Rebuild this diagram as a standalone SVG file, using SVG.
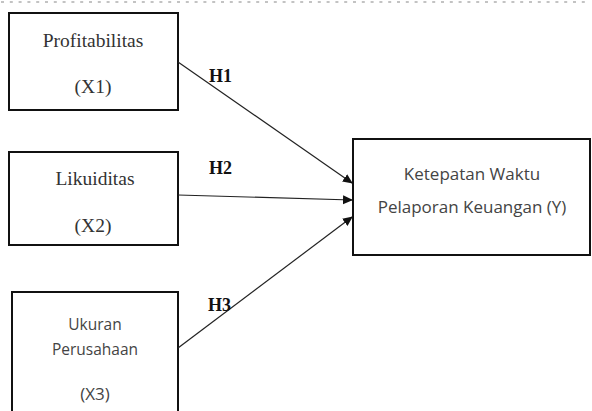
<svg xmlns="http://www.w3.org/2000/svg" width="592" height="411" viewBox="0 0 592 411">
<style>
.box{fill:#fff;stroke:#111;stroke-width:2}
.serif{font-family:"Liberation Serif",serif;font-size:19.5px;fill:#333;text-anchor:middle}
.sans{font-family:"Open Sans","DejaVu Sans",sans-serif;fill:#444;text-anchor:middle}
.s1{font-size:15.5px}
.s2{font-size:17px}
.hl{font-family:"Liberation Serif",serif;font-size:18px;font-weight:bold;fill:#111}
.conn{stroke:#222;stroke-width:1.2;fill:none;marker-end:url(#arr)}
</style>
<defs>
<marker id="arr" markerWidth="10" markerHeight="10" refX="9" refY="5" orient="auto" markerUnits="userSpaceOnUse">
<path d="M0,0.5 L10,5 L0,9.5 Z" fill="#111"/>
</marker>
</defs>
<rect width="592" height="411" fill="#fff"/>
<line x1="1" y1="2" x2="586" y2="2" stroke="#888" stroke-width="1.2" stroke-dasharray="3,5.8"/>
<g id="x1">
<rect class="box" x="9" y="13" width="169" height="97"/>
<text class="serif" x="93" y="47">Profitabilitas</text>
<text class="serif" x="93" y="93">(X1)</text>
</g>
<g id="x2">
<rect class="box" x="9" y="152" width="169" height="93"/>
<text class="serif" x="95" y="185">Likuiditas</text>
<text class="serif" x="93" y="232">(X2)</text>
</g>
<g id="x3">
<rect class="box" x="12" y="292" width="166" height="130"/>
<text class="sans s1" x="95" y="330">Ukuran</text>
<text class="sans s1" x="95" y="355">Perusahaan</text>
<text class="sans" x="95" y="400" font-size="17px">(X3)</text>
</g>
<g id="y">
<rect class="box" x="353" y="139" width="237" height="116"/>
<text class="sans s2" x="472" y="180">Ketepatan Waktu</text>
<text class="sans s2" x="472" y="213">Pelaporan Keuangan (Y)</text>
</g>
<g id="connectors">
<line class="conn" x1="178" y1="62" x2="352" y2="183"/>
<line class="conn" x1="178" y1="195" x2="352" y2="200"/>
<line class="conn" x1="178" y1="348" x2="352" y2="217"/>
<text class="hl" x="209" y="82">H1</text>
<text class="hl" x="209" y="174">H2</text>
<text class="hl" x="208" y="311">H3</text>
</g>
</svg>
